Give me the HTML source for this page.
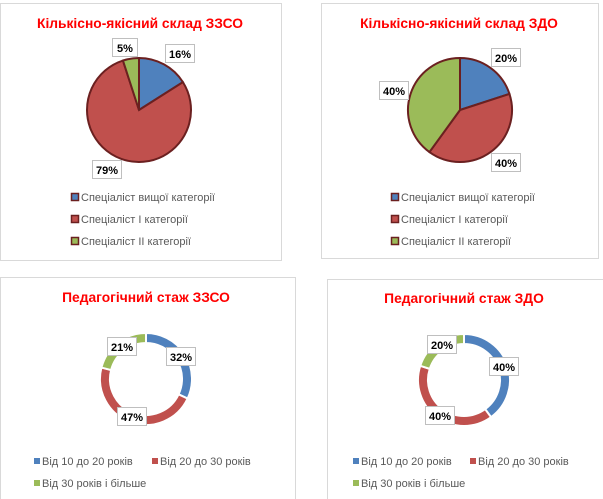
<!DOCTYPE html>
<html><head><meta charset="utf-8"><style>
body{margin:0;width:603px;height:499px;background:#fff;overflow:hidden;font-family:"Liberation Sans","DejaVu Sans",sans-serif}
svg{position:absolute;left:0;top:0}
</style></head><body>
<svg id="s" width="603" height="499"></svg>
<script>
const ns="http://www.w3.org/2000/svg";
const s=document.getElementById('s');
const colors=["#4f81bd","#c0504d","#9bbb59"];
const catTitles=["Кількісно-якісний склад ЗЗСО","Кількісно-якісний склад ЗДО"];
const catLegend=["Спеціаліст вищої категорії","Спеціаліст I категорії","Спеціаліст II категорії"];
const zzsoCat=[16,79,5];
const zdoCat=[20,40,40];
const stajTitles=["Педагогічний стаж ЗЗСО","Педагогічний стаж ЗДО"];
const stajLegend=["Від 10 до 20 років","Від 20 до 30 років","Від 30 років і більше"];
const zzsoStaj=[32,47,21];
const zdoStaj=[40,40,20];

function el(t,a,p){const e=document.createElementNS(ns,t);for(const k in a)e.setAttribute(k,a[k]);(p||s).appendChild(e);return e;}
function pt(cx,cy,r,f){const a=f*2*Math.PI;return [cx+r*Math.sin(a),cy-r*Math.cos(a)];}
function txt(x,y,str,attrs,name){const t=el('text',Object.assign({x:x,y:y},attrs));t.textContent=str;

return t;}

function panel(x,y,w,h,name){const r=el('rect',{x:x+.5,y:y+.5,width:w,height:h,fill:'#fff',stroke:'#d9d9d9'});

}

function pie(cx,cy,r,vals,labelPos,name){
 const tot=vals.reduce((a,b)=>a+b,0);let c=0;
 vals.forEach((v,i)=>{const a0=c/tot,a1=(c+v)/tot;c+=v;
  const p0=pt(cx,cy,r,a0),p1=pt(cx,cy,r,a1);
  const p=el('path',{d:`M${cx},${cy}L${p0[0]},${p0[1]}A${r},${r} 0 ${(a1-a0)>.5?1:0} 1 ${p1[0]},${p1[1]}Z`,fill:colors[i],stroke:'#6b2020','stroke-width':2});
  
  
 });
 vals.forEach((v,i)=>label(labelPos[i][0],labelPos[i][1],v,name));
}
function donut(cx,cy,r,ri,vals,labelPos,name){
 const tot=vals.reduce((a,b)=>a+b,0);let c=0;
 vals.forEach((v,i)=>{const a0=c/tot,a1=(c+v)/tot;c+=v;
  const o0=pt(cx,cy,r,a0),o1=pt(cx,cy,r,a1),i1=pt(cx,cy,ri,a1),i0=pt(cx,cy,ri,a0);const lg=(a1-a0)>.5?1:0;
  const p=el('path',{d:`M${o0[0]},${o0[1]}A${r},${r} 0 ${lg} 1 ${o1[0]},${o1[1]}L${i1[0]},${i1[1]}A${ri},${ri} 0 ${lg} 0 ${i0[0]},${i0[1]}Z`,fill:colors[i],stroke:'#fff','stroke-width':2});
  
  
 });
 vals.forEach((v,i)=>label(labelPos[i][0],labelPos[i][1],v,name));
}
function label(x,y,v,name){
 const str=v+'%';const w=str.length>2?29:25;
 const r=el('rect',{x:x+.5,y:y+.5,width:w,height:18,fill:'#fff',stroke:'#bfbfbf'});
 
 
 txt(x+w/2+.5,y+14,str,{'text-anchor':'middle','font-size':11,'font-weight':'bold',fill:'#000'},name+'-data-label');
}
function legendSq(x,y,i,border,name,str){
 const r=el('rect',border?{x:x+.5,y:y-6.5,width:7,height:7,fill:colors[i],stroke:'#6b2020','stroke-width':1.5}:{x:x,y:y-6,width:6,height:6,fill:colors[i]});
 
 
 txt(x+(border?10:8),y+1,str,{'font-size':11,fill:'#595959'},name+'-legend-entry-'+(i+1));
}
function title(x,y,str,name){txt(x,y,str,{'text-anchor':'middle','font-size':13.8,'font-weight':'bold',fill:'#ff0000'},name+'-title');}

// Panel 1
panel(0,3,281,257,'zzso-category-chart');
title(140,28,catTitles[0],'zzso-category');
pie(139,110,52,zzsoCat,[[165,44],[92,160],[112,38]],'zzso-category');
catLegend.forEach((t,i)=>legendSq(71,200+i*22,i,true,'zzso-category',t));

// Panel 2
panel(321,3,277,255,'zdo-category-chart');
title(459,28,catTitles[1],'zdo-category');
pie(460,110,52,zdoCat,[[491,48],[491,153],[379,81]],'zdo-category');
catLegend.forEach((t,i)=>legendSq(391,200+i*22,i,true,'zdo-category',t));

// Panel 3
panel(0,277,295,230,'zzso-experience-chart');
title(146,302,stajTitles[0],'zzso-experience');
donut(146,379,46,36,zzsoStaj,[[166,347],[117,407],[107,337]],'zzso-experience');
legendSq(34,464,0,false,'zzso-experience',stajLegend[0]);
legendSq(152,464,1,false,'zzso-experience',stajLegend[1]);
legendSq(34,486,2,false,'zzso-experience',stajLegend[2]);

// Panel 4
panel(327,279,280,230,'zdo-experience-chart');
title(464,303,stajTitles[1],'zdo-experience');
donut(464,380,46,36,zdoStaj,[[489,357],[425,406],[427,335]],'zdo-experience');
legendSq(353,464,0,false,'zdo-experience',stajLegend[0]);
legendSq(470,464,1,false,'zdo-experience',stajLegend[1]);
legendSq(353,486,2,false,'zdo-experience',stajLegend[2]);
</script>
</body></html>
